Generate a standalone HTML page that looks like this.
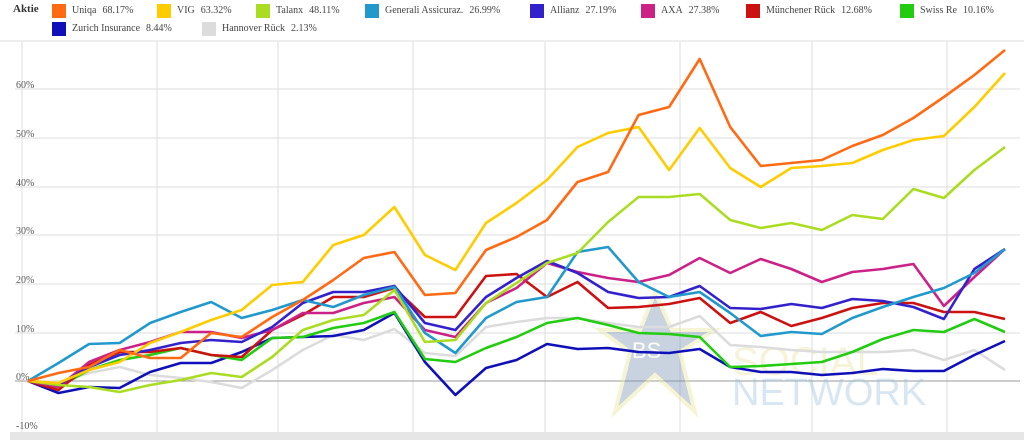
<!DOCTYPE html>
<html><head><meta charset="utf-8"><style>
body{margin:0;background:#fff;width:1024px;height:440px;overflow:hidden;font-family:"Liberation Serif",serif;}
</style></head><body>
<svg id="s" width="1024" height="440" xmlns="http://www.w3.org/2000/svg" style="position:absolute;left:0;top:0">
<rect x="0" y="0" width="1024" height="440" fill="#fff"/>
<rect x="0" y="40" width="1024" height="2" fill="#eee"/>
<rect x="10" y="432" width="1014" height="8" fill="#e6e6e6"/>
<g stroke="#dcdcdc" stroke-width="1">
<line x1="22" y1="42" x2="22" y2="432"/><line x1="157" y1="42" x2="157" y2="432"/><line x1="278" y1="42" x2="278" y2="432"/><line x1="413" y1="42" x2="413" y2="432"/><line x1="545" y1="42" x2="545" y2="432"/><line x1="680" y1="42" x2="680" y2="432"/><line x1="812" y1="42" x2="812" y2="432"/><line x1="947" y1="42" x2="947" y2="432"/>
<line x1="15" y1="89" x2="1020" y2="89"/><line x1="15" y1="138" x2="1020" y2="138"/><line x1="15" y1="187" x2="1020" y2="187"/><line x1="15" y1="235" x2="1020" y2="235"/><line x1="15" y1="284" x2="1020" y2="284"/><line x1="15" y1="333" x2="1020" y2="333"/>
</g>
<line x1="15" y1="381" x2="1020" y2="381" stroke="#999" stroke-width="1"/>
<g font-family="Liberation Serif, serif" font-size="10" fill="#555">
<text x="16" y="88">60%</text><text x="16" y="137">50%</text><text x="16" y="186">40%</text><text x="16" y="234">30%</text><text x="16" y="283">20%</text><text x="16" y="332">10%</text><text x="16" y="380">0%</text><text x="16" y="429">-10%</text>
</g>
<g opacity="0.4">
<polygon points="655,292 672,330 715,330 680,352 695,412 655,375 615,412 630,352 600,330 640,330" fill="#7a93b3" stroke="#e8e89a" stroke-width="4"/>
<text x="632" y="358" font-family="Liberation Sans, sans-serif" font-size="22" fill="#fff">BS</text>
<text x="732" y="375" font-family="Liberation Sans, sans-serif" font-size="40" fill="#e8e2a0">SOCIAL</text>
<text x="732" y="405" font-family="Liberation Sans, sans-serif" font-size="38" fill="#9cc3de">NETWORK</text>
</g>
<g id="lines" fill="none" stroke-width="2.6" stroke-linejoin="round"></g>
</svg>
<div style="position:absolute;left:0;top:0;font-size:11px;color:#333;">
<div style="position:absolute;left:13px;top:3px;font-weight:bold;">Aktie</div>
</div>
<div id="leg"></div>
<script>
var S={
han:[381,382,373,367,375,378,382,388,370,350,335,340,329,353,356,327,322,318,318,323,327,327,316,345,347,350,352,352,352,350,360,350,370],
zur:[381,393,387,388,372,363,363,352,338,337,336,330,313,362,395,368,360,344,349,348,352,353,349,367,372,372,375,373,369,371,371,355,341],
swi:[381,387,370,360,355,348,355,360,338,337,328,323,312,359,362,348,337,323,318,325,333,334,337,367,366,364,362,352,339,330,332,319,332],
mun:[381,390,365,352,352,348,355,357,330,315,297,297,288,317,317,276,274,297,282,308,307,304,298,323,312,326,318,308,303,303,312,312,319],
axa:[381,387,362,350,342,332,332,338,330,313,313,303,297,330,337,303,288,263,272,278,282,275,258,273,259,269,282,272,269,264,306,277,249],
all:[381,385,367,355,350,343,340,342,327,303,292,292,286,323,330,297,278,261,273,292,298,297,286,308,309,304,308,299,301,307,319,269,249],
gen:[381,363,344,343,323,312,302,318,310,300,307,295,287,333,353,318,302,297,252,247,282,297,292,313,336,332,334,318,307,297,288,273,249],
tal:[381,385,387,392,385,380,373,377,357,330,320,315,290,342,340,303,283,263,253,222,197,197,194,220,228,223,230,215,219,189,198,170,147],
vig:[381,383,370,362,343,332,320,310,285,282,245,235,207,255,270,223,203,180,147,133,127,170,128,168,187,168,166,163,150,140,136,107,73],
uni:[381,373,367,350,358,358,333,337,317,300,280,258,252,295,293,250,237,220,182,172,115,107,59,127,166,163,160,146,135,118,97,75,50]};
var C={han:"#dcdcdc",zur:"#1010b8",swi:"#22cc11",mun:"#cc1111",axa:"#cc2288",all:"#3322cc",gen:"#2299cc",tal:"#aadd22",vig:"#ffcc00",uni:"#ff6a13"};
var g=document.getElementById("lines"),ns="http://www.w3.org/2000/svg";
for(var k in S){var p=S[k].map(function(y,i){return (28+30.53*i).toFixed(1)+","+y}).join(" ");
var e=document.createElementNS(ns,"polyline");e.setAttribute("points",p);e.setAttribute("stroke",C[k]);g.appendChild(e);}
var L=[[52,4,"#ff6a13","Uniqa","68.17%"],[157,4,"#ffcc00","VIG","63.32%"],[256,4,"#aadd22","Talanx","48.11%"],[365,4,"#2299cc","Generali Assicuraz.","26.99%"],[530,4,"#3322cc","Allianz","27.19%"],[641,4,"#cc2288","AXA","27.38%"],[746,4,"#cc1111","Münchener Rück","12.68%"],[900,4,"#22cc11","Swiss Re","10.16%"],[52,22,"#1010b8","Zurich Insurance","8.44%"],[202,22,"#dcdcdc","Hannover Rück","2.13%"]];
var h="";L.forEach(function(l){h+='<div style="position:absolute;left:'+l[0]+'px;top:'+l[1]+'px;width:14px;height:14px;background:'+l[2]+'"></div><div style="position:absolute;left:'+(l[0]+20)+'px;top:'+(l[1]+1)+'px;font-size:10px;color:#444;white-space:nowrap">'+l[3]+'<span style="margin-left:6px">'+l[4]+'</span></div>';});
document.getElementById("leg").innerHTML=h;
</script>
</body></html>
